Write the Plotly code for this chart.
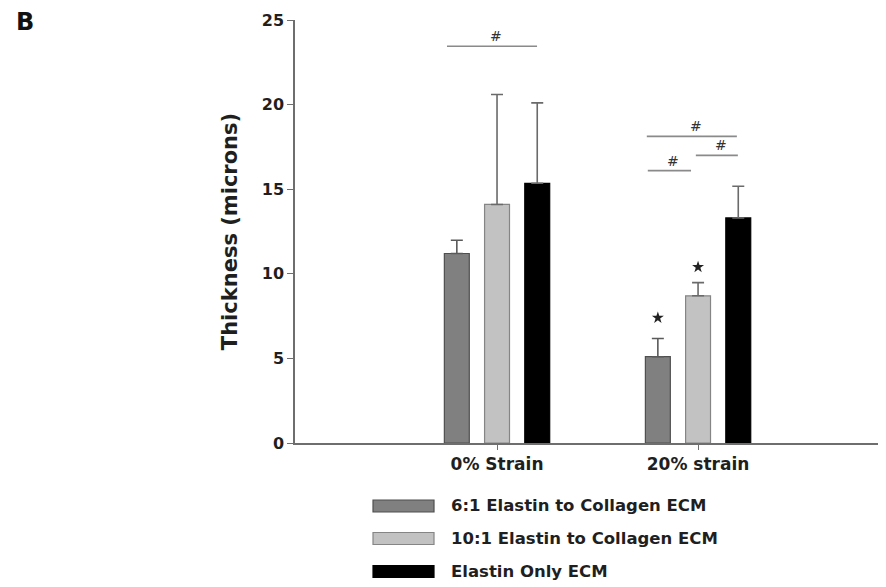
import plotly.graph_objects as go

# ---------------- data ----------------
categories = ["0% Strain", "20% strain"]
series_names = ["6:1 Elastin to Collagen ECM", "10:1 Elastin to Collagen ECM", "Elastin Only ECM"]
thickness_6to1 = [11.2, 5.1]
thickness_10to1 = [14.1, 8.7]
thickness_elastin = [15.35, 13.3]
sd_6to1 = [0.78, 1.08]
sd_10to1 = [6.5, 0.78]
sd_elastin = [4.75, 1.87]
y_ticks = [0, 5, 10, 15, 20, 25]

# significance brackets: (x start, x end, y level) in category units
brackets = [(-0.249, 0.199, 23.45), (0.745, 1.193, 18.12), (0.989, 1.198, 17.0), (0.750, 0.965, 16.1)]
# stars: (group index, bar index, y)
stars = [(1, 0, 7.4), (1, 1, 10.4)]

values = [thickness_6to1, thickness_10to1, thickness_elastin]
errors = [sd_6to1, sd_10to1, sd_elastin]
fills = ["#808080", "#c2c2c2", "#000000"]
outlines = ["#4f4f4f", "#858585", "#000000"]
err_colors = ["#5a5a5a", "#6a6a6a", "#6a6a6a"]

FONT = "DejaVu Sans, Arial, sans-serif"
TXT = "#1f1f1f"

fig = go.Figure()
x_idx = list(range(len(categories)))
for name, v, e, fc, lc, ec in zip(series_names, values, errors, fills, outlines, err_colors):
    fig.add_trace(go.Bar(
        x=x_idx, y=v, name=name,
        marker=dict(color=fc, line=dict(color=lc, width=1.2)),
        error_y=dict(type="data", array=e, arrayminus=[0] * len(e), symmetric=False,
                     color=ec, thickness=1.6, width=6),
        showlegend=False,
    ))

bar_offset = 0.2
for g, b, yv in stars:
    fig.add_trace(go.Scatter(x=[g + (b - 1) * bar_offset], y=[yv], mode="markers",
                             marker=dict(symbol="star", size=9, color="#222222"),
                             showlegend=False, hoverinfo="skip"))

shapes = []
annotations = []
for x0, x1, yv in brackets:
    shapes.append(dict(type="line", xref="x", yref="y", x0=x0, x1=x1, y0=yv, y1=yv,
                       line=dict(color="#8a8a8a", width=1.6)))
    annotations.append(dict(x=(x0 + x1) / 2 + 0.02, y=yv, xref="x", yref="y", text="#",
                            showarrow=False, yanchor="bottom", yshift=0,
                            font=dict(family=FONT, size=14, color="#333333")))

# legend drawn as wide swatches below the axis
row_y = [-0.1489, -0.2258, -0.3038]
for name, fc, lc, ry in zip(series_names, fills, outlines, row_y):
    shapes.append(dict(type="rect", xref="paper", yref="paper", x0=0.1329, x1=0.2368,
                       y0=ry - 0.0142, y1=ry + 0.0142, fillcolor=fc,
                       line=dict(color=lc, width=1.2)))
    annotations.append(dict(x=0.2624, y=ry, xref="paper", yref="paper", text=name,
                            showarrow=False, xanchor="left", yanchor="middle",
                            font=dict(family=FONT, size=16.5, color=TXT, weight="bold")))

annotations.append(dict(x=-0.46, y=0.995, xref="paper", yref="paper", text="B",
                        showarrow=False, xanchor="center", yanchor="middle",
                        font=dict(family=FONT, size=24, color="#111111", weight="bold")))

# the page places the figure 8px from the top-left corner, so size it to fill the window
fig.update_layout(
    width=878, height=579,
    margin=dict(l=287, r=4, t=12, b=144),
    paper_bgcolor="white", plot_bgcolor="white",
    barmode="group", bargap=0.4, bargroupgap=0.38,
    shapes=shapes, annotations=annotations,
    xaxis=dict(range=[-1.005, 1.915], tickvals=x_idx, ticktext=categories,
               showline=True, linecolor="#6e6e6e", linewidth=1.5,
               ticks="outside", ticklen=5, tickwidth=1.3, tickcolor="#6e6e6e",
               showgrid=False, zeroline=False,
               tickfont=dict(family=FONT, size=17, color=TXT, weight="bold")),
    yaxis=dict(range=[0, 25], tickvals=y_ticks, ticktext=[str(t) for t in y_ticks],
               showline=True, linecolor="#6e6e6e", linewidth=1.5,
               ticks="outside", ticklen=6, tickwidth=1.3, tickcolor="#6e6e6e",
               showgrid=False, zeroline=False,
               tickfont=dict(family=FONT, size=16, color=TXT, weight="bold"),
               title=dict(text="Thickness (microns)", standoff=18,
                          font=dict(family=FONT, size=21, color=TXT, weight="bold"))),
)

fig.write_html("out.html")
